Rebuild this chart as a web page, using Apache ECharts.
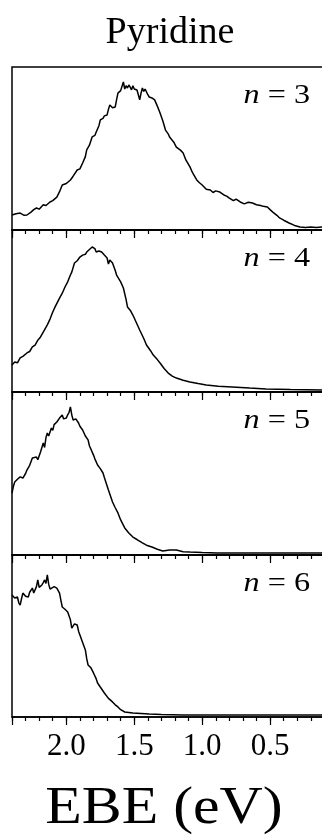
<!DOCTYPE html>
<html>
<head>
<meta charset="utf-8">
<script src="https://cdn.jsdelivr.net/npm/echarts@6/dist/echarts.min.js"></script>
<style>
  html, body { margin: 0; padding: 0; background: #fff; }
  #chart { width: 322px; height: 839px; }
</style>
</head>
<body>
<div id="chart"></div>
<script>
// EBE (eV) and intensity (0-100 = panel height), one pair of arrays per cluster size
const ebe3 = [2.40, 2.37, 2.34, 2.31, 2.29, 2.26, 2.24, 2.22, 2.20, 2.17, 2.15, 2.12, 2.10, 2.07, 2.05, 2.03, 2.00, 1.97, 1.95, 1.92, 1.90, 1.88, 1.86, 1.85, 1.83, 1.81, 1.79, 1.78, 1.76, 1.75, 1.73, 1.72, 1.70, 1.69, 1.68, 1.66, 1.64, 1.63, 1.62, 1.60, 1.59, 1.58, 1.57, 1.56, 1.55, 1.54, 1.53, 1.52, 1.51, 1.50, 1.49, 1.48, 1.47, 1.46, 1.45, 1.44, 1.43, 1.42, 1.40, 1.39, 1.37, 1.35, 1.33, 1.31, 1.29, 1.27, 1.25, 1.24, 1.21, 1.19, 1.16, 1.14, 1.12, 1.09, 1.07, 1.04, 1.02, 1.00, 0.97, 0.94, 0.92, 0.90, 0.87, 0.84, 0.82, 0.80, 0.77, 0.75, 0.72, 0.69, 0.66, 0.63, 0.60, 0.57, 0.55, 0.52, 0.50, 0.48, 0.45, 0.43, 0.40, 0.36, 0.32, 0.28, 0.24, 0.20, 0.16, 0.12, 0.00];
const int3 = [9.2, 10.0, 10.4, 9.0, 9.2, 11.0, 12.5, 13.5, 12.8, 15.5, 15.0, 17.2, 18.0, 20.2, 23.5, 27.6, 28.5, 30.7, 33.0, 36.8, 37.5, 41.1, 45.0, 49.1, 52.0, 57.1, 58.0, 60.1, 64.0, 67.5, 68.5, 70.0, 70.6, 74.0, 76.7, 75.0, 75.5, 80.0, 84.0, 85.5, 84.5, 90.8, 86.5, 88.5, 87.1, 89.0, 87.7, 86.0, 88.5, 86.5, 87.5, 85.9, 83.0, 79.8, 84.0, 87.1, 85.0, 86.5, 83.0, 81.6, 81.0, 79.8, 76.0, 71.8, 67.0, 61.3, 59.0, 57.1, 54.0, 50.9, 49.0, 47.2, 43.0, 38.7, 35.0, 30.7, 29.0, 27.6, 25.0, 24.5, 23.0, 24.0, 23.3, 21.5, 20.8, 19.6, 18.0, 19.0, 17.2, 16.0, 17.0, 16.6, 15.5, 15.0, 14.5, 14.1, 12.5, 11.0, 9.0, 7.4, 6.0, 4.3, 2.8, 1.8, 1.5, 1.8, 1.6, 1.8, 1.8];

const ebe4 = [2.40, 2.38, 2.36, 2.34, 2.32, 2.29, 2.27, 2.25, 2.23, 2.21, 2.19, 2.17, 2.14, 2.12, 2.10, 2.08, 2.05, 2.03, 2.01, 1.99, 1.97, 1.96, 1.94, 1.92, 1.90, 1.88, 1.86, 1.85, 1.83, 1.82, 1.81, 1.80, 1.79, 1.78, 1.76, 1.74, 1.72, 1.70, 1.69, 1.68, 1.66, 1.64, 1.63, 1.60, 1.58, 1.56, 1.55, 1.53, 1.51, 1.48, 1.46, 1.43, 1.41, 1.38, 1.36, 1.33, 1.31, 1.28, 1.25, 1.22, 1.19, 1.14, 1.09, 1.03, 0.97, 0.88, 0.78, 0.65, 0.53, 0.35, 0.12, 0.00];
const int4 = [16.7, 18.5, 18.0, 21.0, 22.0, 24.1, 25.0, 27.8, 29.0, 32.0, 34.0, 37.0, 41.4, 45.0, 49.4, 53.0, 58.0, 61.0, 64.8, 68.0, 72.2, 74.0, 79.6, 81.0, 83.3, 84.5, 85.0, 86.4, 88.0, 87.0, 89.5, 90.7, 88.5, 86.4, 87.0, 86.4, 84.5, 82.7, 79.0, 81.5, 79.6, 75.0, 72.2, 68.0, 64.2, 57.0, 52.5, 50.5, 47.5, 42.0, 38.3, 33.0, 29.0, 25.5, 22.8, 20.0, 17.9, 14.5, 11.7, 9.8, 8.6, 7.2, 6.2, 5.2, 4.3, 3.6, 3.1, 2.4, 1.9, 1.5, 1.2, 1.2];

const ebe5 = [2.40, 2.39, 2.38, 2.36, 2.34, 2.32, 2.30, 2.29, 2.27, 2.25, 2.24, 2.22, 2.21, 2.19, 2.18, 2.17, 2.16, 2.15, 2.14, 2.13, 2.11, 2.10, 2.09, 2.07, 2.06, 2.05, 2.03, 2.02, 2.00, 1.99, 1.98, 1.97, 1.96, 1.95, 1.93, 1.91, 1.90, 1.89, 1.88, 1.86, 1.84, 1.83, 1.82, 1.80, 1.79, 1.78, 1.77, 1.75, 1.73, 1.72, 1.71, 1.69, 1.68, 1.67, 1.66, 1.64, 1.62, 1.60, 1.57, 1.54, 1.51, 1.48, 1.44, 1.41, 1.37, 1.33, 1.29, 1.24, 1.19, 1.14, 1.09, 1.00, 0.89, 0.60, 0.00];
const int5 = [38.0, 42.0, 44.8, 46.5, 47.9, 47.2, 50.0, 52.1, 55.0, 59.5, 59.0, 60.1, 58.5, 63.2, 62.0, 68.7, 66.0, 72.0, 74.8, 73.0, 77.9, 76.5, 80.0, 81.6, 80.5, 84.0, 85.9, 83.5, 84.0, 86.0, 87.5, 90.8, 86.0, 82.8, 83.5, 81.0, 79.0, 80.0, 76.7, 73.0, 70.6, 67.0, 67.5, 61.3, 59.0, 60.0, 55.2, 53.0, 50.3, 47.5, 45.0, 39.9, 40.5, 35.0, 32.5, 29.0, 25.8, 21.5, 16.6, 13.5, 11.0, 9.5, 7.4, 6.0, 4.9, 3.5, 2.5, 3.0, 3.1, 2.0, 1.8, 1.5, 1.2, 1.2, 1.2];

const ebe6 = [2.40, 2.38, 2.36, 2.35, 2.34, 2.33, 2.32, 2.30, 2.28, 2.27, 2.25, 2.24, 2.23, 2.22, 2.21, 2.20, 2.18, 2.17, 2.16, 2.15, 2.14, 2.13, 2.12, 2.11, 2.09, 2.07, 2.05, 2.04, 2.03, 2.01, 1.99, 1.97, 1.96, 1.94, 1.92, 1.91, 1.90, 1.88, 1.86, 1.85, 1.84, 1.82, 1.80, 1.78, 1.77, 1.75, 1.72, 1.69, 1.66, 1.64, 1.62, 1.60, 1.57, 1.54, 1.51, 1.45, 1.39, 1.30, 1.14, 0.80, 0.00];
const int6 = [75.3, 73.5, 74.1, 70.5, 69.1, 73.0, 76.5, 74.5, 74.1, 77.0, 79.6, 76.5, 77.2, 80.5, 84.6, 80.0, 81.5, 83.0, 84.6, 82.5, 87.7, 82.0, 79.0, 78.4, 80.5, 79.6, 76.5, 72.0, 67.9, 66.5, 64.8, 60.0, 54.9, 57.5, 56.8, 53.0, 50.6, 46.0, 41.4, 36.0, 32.1, 30.5, 27.2, 23.5, 21.0, 18.5, 14.8, 11.5, 9.3, 7.5, 6.2, 4.5, 3.1, 2.8, 2.5, 2.2, 1.9, 1.5, 1.2, 1.2, 1.2];

const panelLabels = ["3", "4", "5", "6"];
const majorTicks = [0.5, 1.0, 1.5, 2.0];

const panels = [
  [ebe3, int3],
  [ebe4, int4],
  [ebe5, int5],
  [ebe6, int6]
];
const tops = [67, 230, 392, 555];
const heights = [163, 162, 163, 162];
const serif = "'Liberation Serif', 'Times New Roman', serif";

const chart = echarts.init(document.getElementById("chart"));

const grid = [];
const xAxis = [];
const yAxis = [];
const series = [];
const graphic = [
  {
    type: "text",
    x: 170,
    y: 33,
    style: {
      text: "Pyridine",
      fontFamily: serif,
      fontSize: 38,
      fill: "#000",
      textAlign: "center",
      textVerticalAlign: "middle"
    }
  },
  {
    type: "text",
    x: 164,
    y: 809,
    scaleX: 1.15,
    style: {
      text: "EBE (eV)",
      fontFamily: serif,
      fontSize: 52,
      fill: "#000",
      textAlign: "center",
      textVerticalAlign: "middle"
    }
  }
];

panels.forEach(function (p, i) {
  const last = i === panels.length - 1;
  grid.push({
    left: 12,
    top: tops[i],
    width: 326,
    height: heights[i],
    outerBoundsMode: "none",
    show: true,
    borderColor: "#000",
    borderWidth: 1.5
  });
  // minor ticks every 0.1 eV
  xAxis.push({
    type: "value",
    gridIndex: i,
    inverse: true,
    min: 0,
    max: 2.4,
    interval: 0.1,
    position: "bottom",
    axisLine: { show: true, lineStyle: { color: "#000", width: 1.5 } },
    axisTick: { show: true, length: 4, lineStyle: { color: "#000", width: 1.2 } },
    axisLabel: { show: false },
    splitLine: { show: false }
  });
  // major ticks every 0.5 eV
  xAxis.push({
    type: "value",
    gridIndex: i,
    inverse: true,
    min: 0,
    max: 2.4,
    interval: 0.5,
    position: "bottom",
    axisLine: { show: false },
    axisTick: { show: true, length: 8, lineStyle: { color: "#000", width: 1.2 } },
    axisLabel: {
      show: last,
      margin: 14,
      color: "#000",
      fontFamily: serif,
      fontSize: 31,
      formatter: function (v) {
        return majorTicks.indexOf(Math.round(v * 10) / 10) >= 0 ? v.toFixed(1) : "";
      }
    },
    splitLine: { show: false }
  });
  yAxis.push({
    type: "value",
    gridIndex: i,
    min: 0,
    max: 100,
    show: false
  });
  series.push({
    type: "line",
    xAxisIndex: i * 2,
    yAxisIndex: i,
    data: p[0].map(function (e, k) { return [e, p[1][k]]; }),
    showSymbol: false,
    lineStyle: { color: "#000", width: 1.5 },
    animation: false
  });
  graphic.push({
    type: "text",
    x: 310,
    y: tops[i] + 29,
    scaleX: 1.15,
    style: {
      text: "{i|n} = " + panelLabels[i],
      fontFamily: serif,
      fontSize: 28,
      fill: "#000",
      textAlign: "right",
      textVerticalAlign: "middle",
      rich: {
        i: { fontStyle: "italic", fontFamily: serif, fontSize: 28 }
      }
    }
  });
});

chart.setOption({
  animation: false,
  grid: grid,
  xAxis: xAxis,
  yAxis: yAxis,
  series: series,
  graphic: graphic
});
</script>
</body>
</html>
